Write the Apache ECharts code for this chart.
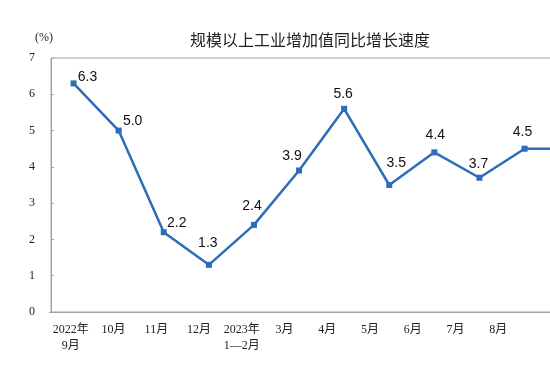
<!DOCTYPE html>
<html>
<head>
<meta charset="utf-8">
<script src="https://cdn.jsdelivr.net/npm/echarts@6/dist/echarts.min.js"></script>
<style>
html,body{margin:0;padding:0;background:#fff;}
#main{width:550px;height:378px;}
</style>
</head>
<body>
<div id="main"></div>
<script>
// 月份
var months = ['2022年\n9月','10月','11月','12月','2023年\n1—2月','3月','4月','5月','6月','7月','8月','9月'];
// 同比增长速度(%)
var growth = [6.3, 5.0, 2.2, 1.3, 2.4, 3.9, 5.6, 3.5, 4.4, 3.7, 4.5, 4.5];
// 数值标签相对于点的偏移
var labelOffsets = [[14,-6],[14,-9],[13,-9],[-1,-22],[-2,-19],[-7,-14],[-1,-15],[7,-22],[1,-17],[-1,-14],[-2,-17],[0,-17]];

var chart = echarts.init(document.getElementById('main'));

var pts = [];
for (var i = 0; i < growth.length; i++) {
	pts.push({value: growth[i], label: {offset: labelOffsets[i]}});
}

var axisGray = '#a3a3a3';

var option = {
	backgroundColor: '#fff',
	title: {
		text: '规模以上工业增加值同比增长速度',
		left: 185,
		top: 27,
		textStyle: {fontSize: 16, fontWeight: 'normal', color: '#222', fontFamily: 'Noto Sans CJK SC'}
	},
	grid: [
		//横轴标签用
		{left: 49.5, top: 58, bottom: 66, width: 513, outerBoundsMode: 'none', containLabel: false},
		//折线和纵轴
		{left: 51, top: 58, bottom: 66, width: 541.2, outerBoundsMode: 'none', containLabel: false,
			show: true, borderColor: axisGray, borderWidth: 1}
	],
	xAxis: [{
		type: 'category',
		gridIndex: 0,
		data: months,
		axisLine: {lineStyle: {color: axisGray}},
		axisTick: {inside: true, length: 4, interval: 0, lineStyle: {color: axisGray}},
		axisLabel: {
			color: '#222', fontSize: 12, margin: 10, lineHeight: 16,
			fontFamily: 'Liberation Serif, Noto Sans CJK SC',
			//最后一个月的标签在图外
			interval: function (idx) { return idx < months.length - 1; }
		}
	}, {
		type: 'category',
		gridIndex: 1,
		data: months,
		show: false
	}],
	yAxis: [{
		type: 'value',
		gridIndex: 0,
		min: 0, max: 7, interval: 1,
		show: false
	}, {
		type: 'value',
		gridIndex: 1,
		min: 0, max: 7, interval: 1,
		name: '(%)',
		nameGap: 14,
		nameTextStyle: {color: '#222', fontSize: 12, fontFamily: 'Liberation Serif', padding: [0, 14, 0, 0]},
		axisLine: {show: true, lineStyle: {color: axisGray}},
		axisTick: {show: true, inside: true, length: 3, lineStyle: {color: axisGray}},
		splitLine: {show: false},
		axisLabel: {color: '#222', fontSize: 12, margin: 16, fontFamily: 'Liberation Serif'}
	}],
	series: [{
		type: 'line',
		xAxisIndex: 1,
		yAxisIndex: 1,
		data: pts,
		symbol: 'rect',
		symbolSize: 6,
		lineStyle: {color: '#2b6db8', width: 2.5},
		itemStyle: {color: '#2b6db8'},
		label: {
			show: true, position: 'inside', color: '#111', fontSize: 14,
			fontFamily: 'Liberation Sans, Arial',
			formatter: function (p) { return p.value.toFixed(1); }
		}
	}],
	animation: false
};
chart.setOption(option);
</script>
</body>
</html>
